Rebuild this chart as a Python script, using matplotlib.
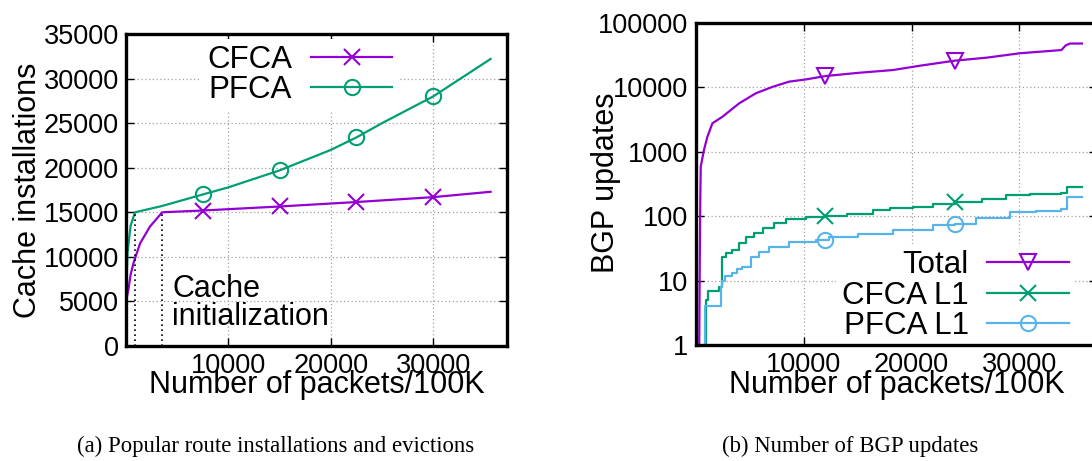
import numpy as np
import matplotlib.pyplot as plt
from matplotlib.ticker import FixedLocator, LogLocator, NullFormatter

plt.rcParams['font.family'] = ['Liberation Sans', 'DejaVu Sans']

# (a) cache installations
cfca_x = [0, 230, 450, 730, 1370, 2340, 3540, 7500, 15000, 22500, 30000, 35600]
cfca_y = [5000, 6300, 8000, 9300, 11500, 13400, 15000, 15200, 15650, 16150, 16700, 17300]
pfca_x = [0, 150, 450, 880, 3500, 7500, 10000, 15000, 20000, 22500, 25000, 30000, 35600]
pfca_y = [5500, 10500, 13500, 15000, 15700, 17000, 17800, 19700, 22000, 23400, 25000, 28000, 32200]
marks_a = [7500, 15000, 22500, 30000]
init_x = [880, 3540]

# (b) BGP updates
total_x = [300, 350, 400, 440, 740, 1050, 1520, 2450, 4000, 5550, 7100, 8650, 10200, 12000,
           15000, 18260, 21000, 24000, 27000, 30050, 33900, 34300, 34700, 35800]
total_y = [1, 20, 200, 590, 1070, 1700, 2770, 3500, 5650, 8100, 10200, 12300, 13300, 15000,
           16800, 18600, 22000, 26000, 29000, 33900, 38000, 45000, 48000, 48000]
cl1_x = [900, 960, 1150, 2100, 2390, 2800, 3380, 4000, 4620, 5400, 6170, 7200, 8340, 10200,
         12000, 14000, 16400, 18000, 20120, 22000, 24000, 26500, 28800, 31000, 33900, 34400, 35800]
cl1_y = [1, 5, 7, 8, 23.5, 27, 30, 38, 48, 55, 65, 78, 90, 98,
         101, 110, 125, 132, 140, 152, 165, 185, 213, 220, 227, 287, 287]
pl1_x = [740, 800, 2360, 2450, 2700, 3380, 3800, 4310, 5090, 5800, 6790, 8650, 11140, 12370,
         15000, 18260, 21980, 22300, 24000, 26000, 29100, 31500, 33900, 34400, 35800]
pl1_y = [1, 4, 8, 10, 12, 13, 15, 16.5, 23, 28, 33.6, 40, 42.7, 47,
         53, 61, 73, 74, 75, 93, 117, 122, 128, 200, 200]
marks_b = [12000, 24000]

purple = '#9400D3'
green = '#009E73'
blue = '#56B4E9'


def with_marks(x, y, marks, step=False):
    x = np.asarray(x, float)
    y = np.asarray(y, float)
    m = np.asarray(marks, float)
    if step:
        my = y[np.searchsorted(x, m, side='right') - 1]
    else:
        my = np.interp(m, x, y)
    xs = np.concatenate([x, m])
    ys = np.concatenate([y, my])
    order = np.argsort(xs, kind='stable')
    xs, ys = xs[order], ys[order]
    idx = [int(np.where(order == len(x) + i)[0][0]) for i in range(len(m))]
    return xs, ys, idx


def style(ax, ypad):
    for s in ax.spines.values():
        s.set_linewidth(2.4)
        s.set_zorder(6)
    ax.tick_params(which='both', direction='in', top=True, right=True, labelsize=19.5,
                   width=1, length=6, pad=5)
    ax.tick_params(axis='y', pad=ypad)
    ax.tick_params(which='minor', length=3)
    ax.grid(True, which='major', color='#a0a0a0', linestyle=(0, (1, 2)), linewidth=0.9)
    ax.set_axisbelow(True)


fig = plt.figure(figsize=(10.92, 4.61), dpi=100)
W, H = 1092, 461
LBL = 22
LEG = 22.5

# ---------- (a)
ax1 = fig.add_axes([126 / W, 1 - 346 / H, 381 / W, 312 / H])
style(ax1, 5)
xs, ys, idx = with_marks(cfca_x, cfca_y, marks_a)
ax1.plot(xs, ys, color=purple, lw=1.6, marker='x', markevery=idx, ms=11, mew=1.5, label='CFCA')
xs, ys, idx = with_marks(pfca_x, pfca_y, marks_a)
ax1.plot(xs, ys, color=green, lw=1.6, marker='o', markevery=idx, ms=11, mew=1.5,
         mfc='none', label='PFCA')
for v in init_x:
    ax1.plot([v, v], [0, 15000], color='black', lw=1.2, linestyle=(0, (1, 2)))
ax1.text(4500, 5500, 'Cache', fontsize=LBL, va='baseline')
ax1.text(4500, 2360, 'initialization', fontsize=LBL, va='baseline')
ax1.set_xlim(0, 37200)
ax1.set_ylim(0, 35000)
ax1.xaxis.set_major_locator(FixedLocator([10000, 20000, 30000]))
ax1.yaxis.set_major_locator(FixedLocator(range(0, 35001, 5000)))
ax1.set_xlabel('Number of packets/100K', fontsize=LBL, va='baseline')
ax1.set_ylabel('Cache installations', fontsize=LBL, va='center')
ax1.xaxis.set_label_coords(317 / W, 1 - 393 / H, transform=fig.transFigure)
ax1.yaxis.set_label_coords(28 / W, 1 - 190 / H, transform=fig.transFigure)
ax1.legend(loc='upper right', bbox_to_anchor=(0.715, 0.985), markerfirst=False,
           fontsize=LEG, frameon=True, framealpha=1, edgecolor='none', fancybox=False,
           handlelength=2.6, handletextpad=0.6, labelspacing=0.0, borderpad=0.2,
           borderaxespad=0)

# ---------- (b)
ax2 = fig.add_axes([696 / W, 1 - 345 / H, 401 / W, 322 / H])
style(ax2, 6)
ax2.set_yscale('log')
xs, ys, idx = with_marks(total_x, total_y, marks_b)
ax2.plot(xs, ys, color=purple, lw=1.6, marker='v', markevery=idx, ms=12, mew=1.5,
         mfc='none', label='Total')
xs, ys, idx = with_marks(cl1_x, cl1_y, marks_b, step=True)
ax2.plot(xs, ys, color=green, lw=1.6, drawstyle='steps-post', marker='x', markevery=idx,
         ms=11, mew=1.5, label='CFCA L1')
xs, ys, idx = with_marks(pl1_x, pl1_y, marks_b, step=True)
ax2.plot(xs, ys, color=blue, lw=1.6, drawstyle='steps-post', marker='o', markevery=idx,
         ms=11, mew=1.5, mfc='none', label='PFCA L1')
ax2.set_xlim(0, 37200)
ax2.set_ylim(1, 100000)
ax2.xaxis.set_major_locator(FixedLocator([10000, 20000, 30000]))
ax2.yaxis.set_major_locator(FixedLocator([1, 10, 100, 1000, 10000, 100000]))
ax2.yaxis.set_minor_locator(LogLocator(base=10, subs=np.arange(2, 10)))
ax2.yaxis.set_minor_formatter(NullFormatter())
ax2.set_yticklabels(['1', '10', '100', '1000', '10000', '100000'])
ax2.set_xlabel('Number of packets/100K', fontsize=LBL, va='baseline')
ax2.set_ylabel('BGP updates', fontsize=LBL, va='center')
ax2.xaxis.set_label_coords(897 / W, 1 - 393 / H, transform=fig.transFigure)
ax2.yaxis.set_label_coords(606 / W, 1 - 183 / H, transform=fig.transFigure)
ax2.legend(loc='lower right', bbox_to_anchor=(0.945, -0.008), markerfirst=False,
           fontsize=LEG, frameon=True, framealpha=1, edgecolor='none', fancybox=False,
           handlelength=2.6, handletextpad=0.6, labelspacing=0.02, borderpad=0.2,
           borderaxespad=0)

fig.text(276 / W, 1 - 446 / H, '(a) Popular route installations and evictions',
         family='Liberation Serif', fontsize=16.4, ha='center', va='center')
fig.text(850 / W, 1 - 446 / H, '(b) Number of BGP updates',
         family='Liberation Serif', fontsize=16.4, ha='center', va='center')

fig.savefig('out.png', dpi=100)
